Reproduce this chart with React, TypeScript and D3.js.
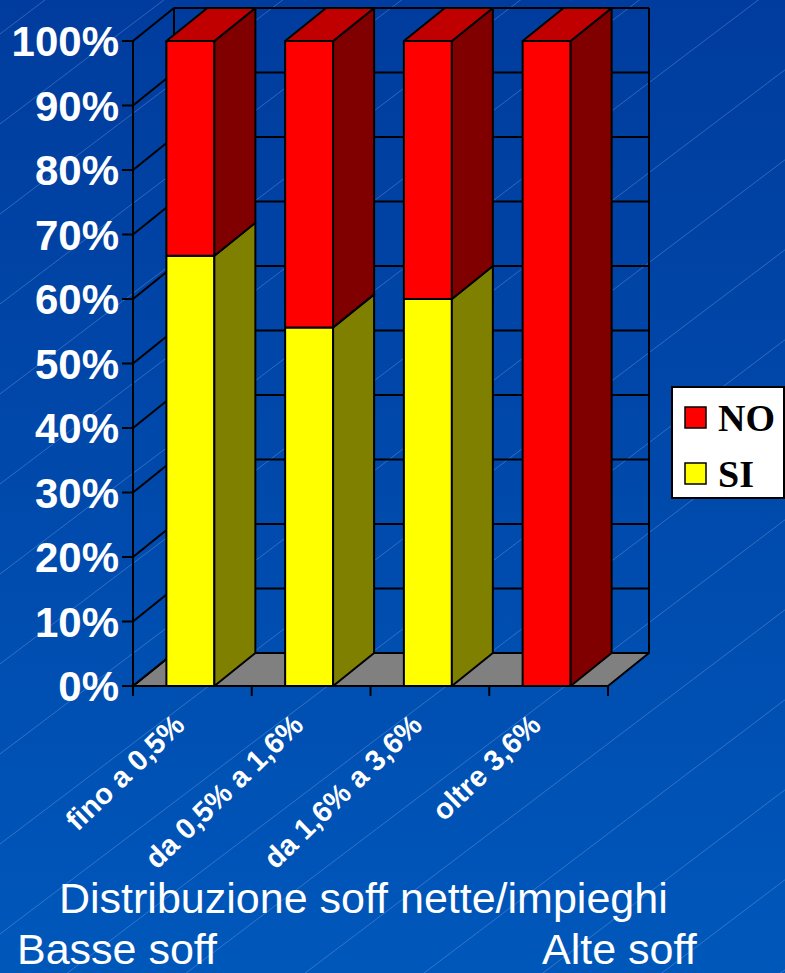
import React from "react";
import * as d3 from "d3";

const categories = ["fino a 0,5%", "da 0,5% a 1,6%", "da 1,6% a 3,6%", "oltre 3,6%"];
const siValues = [66.7, 55.6, 60, 0];
const noValues = [33.3, 44.4, 40, 100];
const yTicks = [0, 10, 20, 30, 40, 50, 60, 70, 80, 90, 100];
const legendItems = ["NO", "SI"];
const title = "Distribuzione soff nette/impieghi";
const leftNote = "Basse soff";
const rightNote = "Alte soff";

const W = 785;
const H = 973;
const DX = 41;
const DY = -33;
const SANS = "'Liberation Sans', Arial, sans-serif";
const SERIF = "'Liberation Serif', 'Times New Roman', serif";

const colors = {
  SI: { front: "#ffff00", side: "#808000", top: "#c0c000" },
  NO: { front: "#ff0000", side: "#800000", top: "#c00000" },
};

export default function App() {
  const y = d3.scaleLinear().domain([0, 100]).range([686, 41]);
  const x = d3
    .scaleBand<string>()
    .domain(categories)
    .range([133, 608])
    .paddingInner(0.596)
    .paddingOuter(0.298);
  const x0 = 133;
  const x1 = 608;
  const bw = x.bandwidth();
  const step = x.step();

  const slope = -0.757;
  const bgLines: number[] = [];
  for (let c = 34 - 90 * 3; c < H + 0.757 * W + 90; c += 90) bgLines.push(c);

  const poly = (pts: [number, number][]) => pts.map((p) => p.join(",")).join(" ");

  const boundaries = d3.range(categories.length + 1).map((i) => x0 + i * step);

  const segments: { key: string; x: number; y0: number; y1: number; series: "SI" | "NO"; isTop: boolean }[] = [];
  categories.forEach((c, i) => {
    const si = siValues[i];
    const no = noValues[i];
    if (si > 0) segments.push({ key: c + "si", x: x(c)! - 2, y0: 0, y1: si, series: "SI", isTop: no <= 0 });
    if (no > 0) segments.push({ key: c + "no", x: x(c)! - 2, y0: si, y1: si + no, series: "NO", isTop: true });
  });

  return (
    <svg width={W} height={H} style={{ position: "absolute", left: 0, top: 0, display: "block" }}>
      <defs>
        <linearGradient id="bg" x1="0" y1="0" x2="0" y2="1">
          <stop offset="0" stopColor="#003c9d" />
          <stop offset="1" stopColor="#0057ba" />
        </linearGradient>
      </defs>
      <rect x={0} y={0} width={W} height={H} fill="url(#bg)" />
      <g stroke="rgba(180,205,255,0.35)" strokeWidth={0.8}>
        {bgLines.map((c, i) => (
          <line key={i} x1={0} y1={c} x2={W} y2={c + slope * W} />
        ))}
      </g>

      {/* floor */}
      <polygon
        points={poly([
          [x0, y(0)],
          [x1, y(0)],
          [x1 + DX, y(0) + DY],
          [x0 + DX, y(0) + DY],
        ])}
        fill="#808080"
        stroke="#000"
        strokeWidth={2}
        strokeLinejoin="round"
      />

      {/* walls & gridlines */}
      <g stroke="#000" strokeWidth={2} fill="none">
        {yTicks.map((t) => (
          <g key={t}>
            {t > 0 && <line x1={x0 + DX} y1={y(t) + DY} x2={x1 + DX} y2={y(t) + DY} />}
            <line x1={x0} y1={y(t)} x2={x0 + DX} y2={y(t) + DY} />
            <line x1={x0 - 11} y1={y(t)} x2={x0} y2={y(t)} />
          </g>
        ))}
        <line x1={x0} y1={y(0)} x2={x0} y2={y(100)} />
        <line x1={x0 + DX} y1={y(0) + DY} x2={x0 + DX} y2={y(100) + DY} />
        <line x1={x1 + DX} y1={y(0) + DY} x2={x1 + DX} y2={y(100) + DY} />
        <line x1={x0} y1={y(0)} x2={x1} y2={y(0)} />
        {boundaries.map((b, i) => (
          <line key={i} x1={b} y1={y(0)} x2={b} y2={y(0) + 10} />
        ))}
      </g>

      {/* bars */}
      <g stroke="#000" strokeWidth={2} strokeLinejoin="round">
        {segments.map((s) => {
          const xl = s.x;
          const xr = s.x + bw;
          const yb = y(s.y0);
          const yt = y(s.y1);
          const col = colors[s.series];
          return (
            <g key={s.key}>
              <polygon points={poly([[xl, yb], [xr, yb], [xr, yt], [xl, yt]])} fill={col.front} />
              <polygon
                points={poly([[xr, yb], [xr + DX, yb + DY], [xr + DX, yt + DY], [xr, yt]])}
                fill={col.side}
              />
              {s.isTop && (
                <polygon
                  points={poly([[xl, yt], [xr, yt], [xr + DX, yt + DY], [xl + DX, yt + DY]])}
                  fill={col.top}
                />
              )}
            </g>
          );
        })}
      </g>

      {/* y tick labels */}
      <g fill="#fff" fontFamily={SANS} fontWeight="bold" fontSize={42} textAnchor="end">
        {yTicks.map((t) => (
          <text key={t} x={119} y={y(t) + 15}>
            {t}%
          </text>
        ))}
      </g>

      {/* category labels */}
      <g fill="#fff" fontFamily={SANS} fontWeight="bold" fontSize={29} textAnchor="end">
        {categories.map((c) => {
          const cx = x(c)! + bw / 2 - 6;
          const cy = 727;
          return (
            <text key={c} transform={`translate(${cx},${cy}) rotate(-44)`}>
              {c}
            </text>
          );
        })}
      </g>

      {/* legend */}
      <g>
        <rect x={672} y={387} width={112} height={111} fill="#fff" stroke="#000" strokeWidth={2} />
        {legendItems.map((k, i) => (
          <g key={k}>
            <rect
              x={685}
              y={407 + i * 56}
              width={21}
              height={21}
              fill={colors[k as "SI" | "NO"].front}
              stroke="#000"
              strokeWidth={1.5}
            />
            <text x={718} y={431 + i * 56} fontFamily={SERIF} fontWeight="bold" fontSize={38} fill="#000">
              {k}
            </text>
          </g>
        ))}
      </g>

      {/* titles */}
      <g fill="#fff" fontFamily={SANS} fontSize={43}>
        <text x={59} y={913}>{title}</text>
        <text x={17} y={964}>{leftNote}</text>
        <text x={542} y={964}>{rightNote}</text>
      </g>
    </svg>
  );
}
